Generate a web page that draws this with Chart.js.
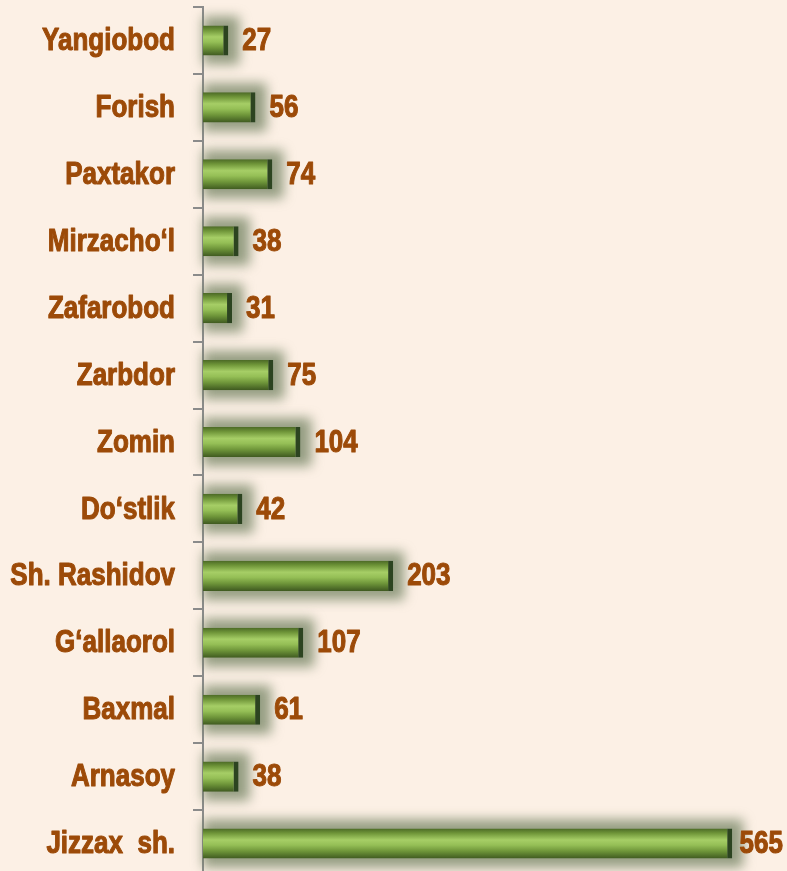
<!DOCTYPE html>
<html>
<head>
<meta charset="utf-8">
<script src="https://cdn.jsdelivr.net/npm/chart.js@4/dist/chart.umd.min.js"></script>
<style>
html,body{margin:0;padding:0;background:#FCF0E5;overflow:hidden;}
#wrap{position:relative;width:787px;height:877px;}
</style>
</head>
<body>
<div id="wrap"><canvas id="c"></canvas></div>
<script>
const categories = ["Yangiobod","Forish","Paxtakor","Mirzacho‘l","Zafarobod","Zarbdor","Zomin","Do‘stlik","Sh. Rashidov","G‘allaorol","Baxmal","Arnasoy","Jizzax  sh."];
const values = [27,56,74,38,31,75,104,42,203,107,61,38,565];

const FONT = '"Liberation Sans",Arial,sans-serif';
const TXT = '#9C4A08';
const SY = 1.2; // vertical stretch of the condensed-looking text

function drawText(c, txt, x, y, align){
  c.save();
  c.translate(x, y);
  c.scale(1, SY);
  c.textAlign = align; c.textBaseline = 'middle';
  c.lineWidth = 0.9; c.strokeStyle = TXT; c.lineJoin='round';
  c.strokeText(txt, 0, 0);
  c.fillText(txt, 0, 0);
  c.restore();
}

const glow = {
  id:'glow',
  beforeDatasetsDraw(chart){
    const c=chart.ctx; const meta=chart.getDatasetMeta(0);
    c.save();
    c.filter='blur(6px)';
    c.fillStyle='rgba(105,122,88,0.7)';
    meta.data.forEach(b=>{
      const h=b.height/2+9;
      c.fillRect(b.base, b.y-h, (b.x-b.base)+11, 2*h);
    });
    c.restore();
  }
};
const textPlugin = {
  id:'texts',
  afterDraw(chart){
    const c=chart.ctx; const meta=chart.getDatasetMeta(0); const ys=chart.scales.y;
    c.save();
    c.fillStyle=TXT; c.font='bold 26px '+FONT;
    categories.forEach((lab,i)=>{
      drawText(c, lab, ys.right-28, ys.getPixelForTick(i)+1, 'right');
    });
    meta.data.forEach((b,i)=>{
      const s=String(values[i]); const w=c.measureText(s).width;
      const x=Math.min(b.x+14, chart.width-w-4);
      drawText(c, s, x, b.y+1, 'left');
    });
    c.restore();
  }
};

new Chart(document.getElementById('c'),{
  type:'bar',
  data:{labels:categories,datasets:[{
    data:values,
    backgroundColor:(ctx)=>{
      const ch=ctx.chart; if(!ch.chartArea||!ch.scales.y) return '#7FA848';
      const y=ch.scales.y.getPixelForTick(ctx.dataIndex); const h=15;
      const g=ch.ctx.createLinearGradient(0,y-h,0,y+h);
      g.addColorStop(0,'#4C6A26');g.addColorStop(0.15,'#6E9438');g.addColorStop(0.38,'#A6CE66');
      g.addColorStop(0.55,'#95BF56');g.addColorStop(0.75,'#6F963A');g.addColorStop(1,'#3F5A20');
      return g;
    },
    borderColor:'#2C4420',
    borderWidth:{top:0,right:5,bottom:0,left:0},
    borderSkipped:false,
    barPercentage:0.45,categoryPercentage:1
  }]},
  options:{
    indexAxis:'y',responsive:true,maintainAspectRatio:false,animation:false,
    layout:{padding:{top:7,right:22,left:0,bottom:0}},
    plugins:{legend:{display:false},tooltip:{enabled:false}},
    scales:{
      x:{display:false,min:0,max:600},
      y:{
        afterFit(s){s.width=203;},
        grid:{display:true,drawOnChartArea:false,tickLength:10,color:'#8C8C8C',lineWidth:2,offset:true},
        border:{display:true,color:'#8C8C8C',width:2},
        ticks:{display:false}
      }
    }
  },
  plugins:[glow,textPlugin]
});
</script>
</body>
</html>
